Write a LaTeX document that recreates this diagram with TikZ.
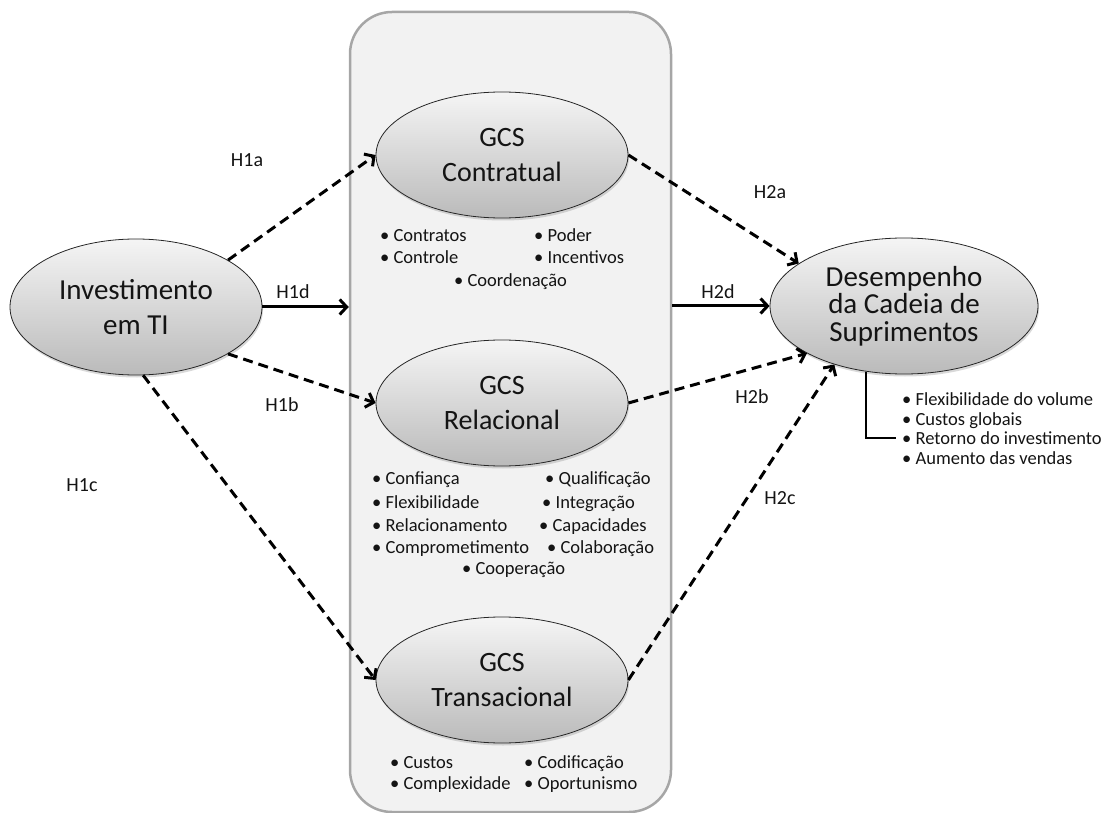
\documentclass[tikz,border=0pt]{standalone}
\usepackage{fontspec}
\setmainfont{Carlito}
\usetikzlibrary{shapes.geometric,arrows.meta,shadows}

\definecolor{panelfill}{HTML}{F2F2F2}
\definecolor{panelline}{HTML}{A6A6A6}
\definecolor{ink}{HTML}{141414}

\begin{document}
\begin{tikzpicture}[x=1pt,y=-1pt,
  construct/.style={ellipse, draw=black!85, line width=0.8pt,
    top color=black!4, bottom color=black!27, inner sep=0pt,
    align=center, text=ink,
    drop shadow={shadow xshift=1pt, shadow yshift=-2.5pt, opacity=0.3}},
  smallconstruct/.style={construct, minimum width=252pt, minimum height=126pt,
    font=\fontsize{28}{34.5}\selectfont},
  item/.style={anchor=base west, yshift=-6.5pt, inner sep=0pt, text=ink,
    font=\fontsize{18.5}{20}\selectfont},
  hlabel/.style={inner sep=0pt, text=ink, font=\fontsize{20}{22}\selectfont},
  link/.style={line width=3pt, -{Straight Barb[length=7pt,width=15pt]}},
  dlink/.style={link, dash pattern=on 10pt off 6pt}
]
\useasboundingbox (0,0) rectangle (1104,813);

% panel grouping the three governance constructs
\node[draw=panelline, line width=2.5pt, fill=panelfill, rounded corners=42pt,
  minimum width=321pt, minimum height=800pt, inner sep=0pt] (box) at (510.5,412) {};

% constructs
\node[construct, minimum width=252pt, minimum height=136pt,
  font=\fontsize{29}{35}\selectfont] (inv) at (136,307) {Investimento\\em TI};
\node[smallconstruct] (con) at (502,155) {GCS\\Contratual};
\node[smallconstruct] (rel) at (502,403) {GCS\\Relacional};
\node[smallconstruct] (tra) at (502,680) {GCS\\Transacional};
\node[construct, minimum width=268pt, minimum height=136pt,
  font=\fontsize{29}{27.5}\selectfont] (des) at (904,306)
  {Desempenho\\da Cadeia de\\Suprimentos};

% dimensions of the contractual construct
\node[item] (c1) at (380,235) {• Contratos};
\node[item] (c2) at (380,257) {• Controle};
\node[item] (c3) at (534,235) {• Poder};
\node[item] (c4) at (534,257) {• Incentivos};
\node[item] (c5) at (454,280) {• Coordenação};

% dimensions of the relational construct
\node[item] (r1) at (372,478) {• Confiança};
\node[item] (r2) at (372,502) {• Flexibilidade};
\node[item] (r3) at (372,525) {• Relacionamento};
\node[item] (r4) at (372,547) {• Comprometimento};
\node[item] (r5) at (462,568) {• Cooperação};
\node[item] (r6) at (545,478) {• Qualificação};
\node[item] (r7) at (542,502) {• Integração};
\node[item] (r8) at (539,525) {• Capacidades};
\node[item] (r9) at (547,547) {• Colaboração};

% dimensions of the transactional construct
\node[item] (t1) at (390,762) {• Custos};
\node[item] (t2) at (390,783) {• Complexidade};
\node[item] (t3) at (524,762) {• Codificação};
\node[item] (t4) at (524,783) {• Oportunismo};

% performance indicators
\node[item] (d1) at (902,399) {• Flexibilidade do volume};
\node[item] (d2) at (902,419) {• Custos globais};
\node[item] (d3) at (902,438) {• Retorno do investimento};
\node[item] (d4) at (902,458) {• Aumento das vendas};
\coordinate (d3tip) at ([xshift=-6pt]d3.west);
\draw[line width=2.2pt, black] (des.240) |- (d3tip);

% hypotheses
\draw[dlink] (inv.27) -- (con.west);
\draw[link] (inv.east) -- (inv.east -| box.west);
\draw[dlink] (inv.-27) -- (rel.west);
\draw[dlink] (inv.-84) -- (tra.west);
\draw[dlink] (con.east) -- (des.158);
\draw[link] (box.east |- des.west) -- (des.west);
\draw[dlink] (rel.east) -- (des.206);
\draw[dlink] (tra.east) -- (des.220);

\node[hlabel] (h1a) at (247,160) {H1a};
\node[hlabel] (h1d) at (293,292) {H1d};
\node[hlabel] (h1b) at (282,405) {H1b};
\node[hlabel] (h1c) at (82,485) {H1c};
\node[hlabel] (h2a) at (770,192) {H2a};
\node[hlabel] (h2d) at (718,292) {H2d};
\node[hlabel] (h2b) at (752,397) {H2b};
\node[hlabel] (h2c) at (780,498) {H2c};
\end{tikzpicture}
\end{document}
